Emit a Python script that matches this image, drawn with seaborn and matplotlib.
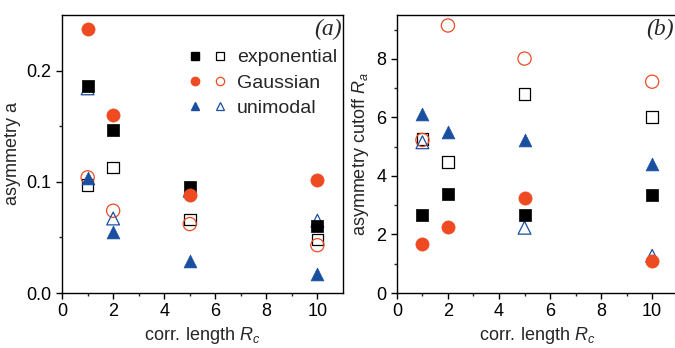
import numpy as np
import pandas as pd
from matplotlib import pyplot as plt
from matplotlib.legend_handler import HandlerTuple
from matplotlib.lines import Line2D
import seaborn as sns

sns.set_theme(style='ticks')
plt.rcParams['font.family'] = ['Liberation Sans', 'DejaVu Sans']
plt.rcParams['mathtext.fontset'] = 'custom'
plt.rcParams['mathtext.it'] = 'Liberation Sans:italic'

# correlation lengths
rc = [1, 2, 5, 10]

# panel (a): asymmetry a
a_exp_fill = [0.186, 0.147, 0.095, 0.060]
a_exp_open = [0.097, 0.113, 0.066, 0.048]
a_gau_fill = [0.237, 0.160, 0.088, 0.102]
a_gau_open = [0.104, 0.074, 0.062, 0.043]
a_uni_fill = [0.103, 0.055, 0.029, 0.017]
a_uni_open = [0.184, 0.067, 0.092, 0.065]

# panel (b): asymmetry cutoff Ra
r_exp_fill = [2.66, 3.37, 2.67, 3.34]
r_exp_open = [5.26, 4.47, 6.79, 6.02]
r_gau_fill = [1.69, 2.27, 3.26, 1.11]
r_gau_open = [5.23, 9.14, 8.01, 7.22]
r_uni_fill = [6.11, 5.51, 5.23, 4.41]
r_uni_open = [5.15, np.nan, 2.23, 1.27]

names = ['exponential', 'Gaussian', 'unimodal']
markers = {'exponential': 's', 'Gaussian': 'o', 'unimodal': '^'}
colors = {'exponential': '#000000', 'Gaussian': '#ee4b23', 'unimodal': '#1a4fa0'}
sizes = {'exponential': 70, 'Gaussian': 90, 'unimodal': 85}

panel_a = {'exponential': (a_exp_fill, a_exp_open),
           'Gaussian': (a_gau_fill, a_gau_open),
           'unimodal': (a_uni_fill, a_uni_open)}
panel_b = {'exponential': (r_exp_fill, r_exp_open),
           'Gaussian': (r_gau_fill, r_gau_open),
           'unimodal': (r_uni_fill, r_uni_open)}

fig = plt.figure(figsize=(6.75, 3.48), dpi=100)
ax1 = fig.add_axes([0.092, 0.158, 0.416, 0.799])
ax2 = fig.add_axes([0.588, 0.158, 0.416, 0.799])


def draw(ax, data):
    for name in names:
        filled, opened = data[name]
        c = colors[name]
        sns.scatterplot(x=rc, y=opened, marker=markers[name], s=sizes[name],
                        facecolor='none', edgecolor=c, linewidth=0.9, ax=ax, zorder=3)
        sns.scatterplot(x=rc, y=filled, marker=markers[name], s=sizes[name],
                        color=c, edgecolor=c, linewidth=0.5, ax=ax, zorder=4)


draw(ax1, panel_a)
draw(ax2, panel_b)

ax1.set_xlim(0, 11)
ax1.set_ylim(0, 0.25)
ax1.set_yticks([0.0, 0.1, 0.2])
ax1.set_yticks([0.05, 0.15], minor=True)
ax2.set_xlim(0, 11)
ax2.set_ylim(0, 9.5)
ax2.set_yticks([0, 2, 4, 6, 8])
ax2.set_yticks([1, 3, 5, 7, 9], minor=True)

for ax in (ax1, ax2):
    ax.set_xticks([0, 2, 4, 6, 8, 10])
    ax.set_xticks([1, 3, 5, 7, 9], minor=True)
    for s in ax.spines.values():
        s.set_visible(True)
        s.set_color('black')
        s.set_linewidth(1.0)
    ax.tick_params(which='major', direction='out', length=4, width=1, labelsize=13, colors='black')
    ax.tick_params(which='minor', direction='out', length=2.5, width=1)
    ax.set_xlabel('corr. length $R_c$', fontsize=13, labelpad=3)

ax1.set_yticklabels(['0.0', '0.1', '0.2'])
ax1.set_ylabel('asymmetry a', fontsize=13, labelpad=4)
ax2.set_ylabel('asymmetry cutoff $R_a$', fontsize=13, labelpad=4)

ax1.text(0.995, 0.985, '(a)', transform=ax1.transAxes, ha='right', va='top',
         fontsize=17, family='Liberation Serif', style='italic')
ax2.text(0.985, 0.985, '(b)', transform=ax2.transAxes, ha='right', va='top',
         fontsize=17, family='Liberation Serif', style='italic')

handles = []
for name in names:
    c = colors[name]
    m = markers[name]
    h_fill = Line2D([], [], linestyle='none', marker=m, markersize=6,
                    color=c, markeredgecolor=c)
    h_open = Line2D([], [], linestyle='none', marker=m, markersize=6,
                    markerfacecolor='none', markeredgecolor=c, markeredgewidth=0.9)
    handles.append((h_fill, h_open))

ax1.legend(handles, names, handler_map={tuple: HandlerTuple(ndivide=None, pad=0.58)},
           loc='upper right', bbox_to_anchor=(1.02, 0.92), frameon=False,
           fontsize=14, handlelength=2.0, handletextpad=0.52, labelspacing=0.4,
           borderaxespad=0.2)

fig.savefig('out.png', dpi=100)
